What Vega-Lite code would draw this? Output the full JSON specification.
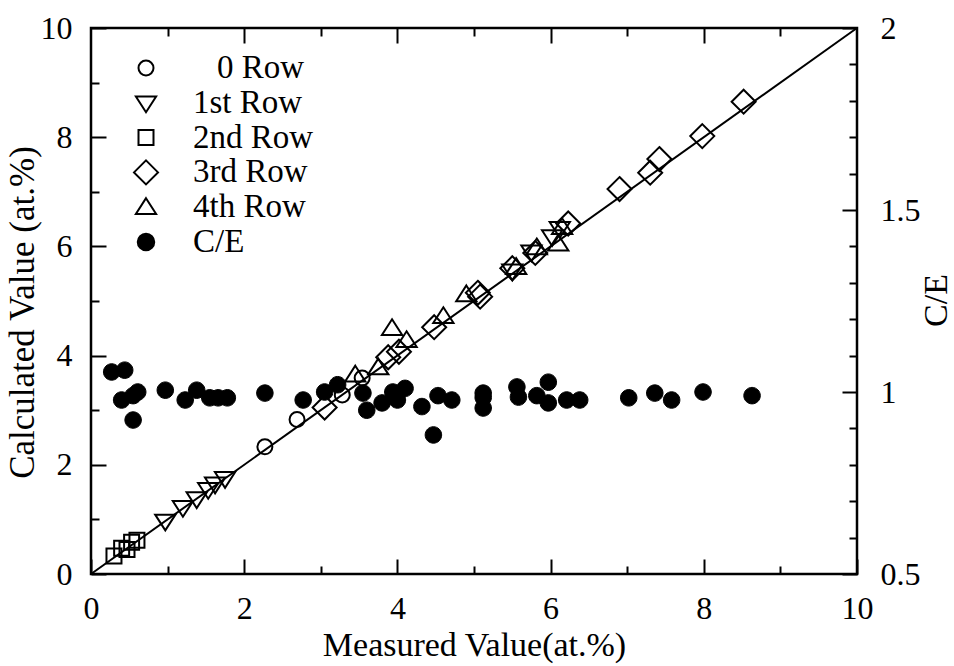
{
  "$schema": "https://vega.github.io/schema/vega-lite/v6.json",
  "width": 766,
  "height": 546,
  "autosize": {"type": "none"},
  "padding": {"left": 91, "top": 28, "right": 97, "bottom": 92},
  "background": "white",
  "config": {
    "view": {"stroke": "black", "strokeWidth": 2.5},
    "axis": {
      "domain": false, "grid": false, "tickColor": "black", "tickWidth": 2,
      "labelFont": "Liberation Serif", "labelFontSize": 32, "labelColor": "black",
      "titleFont": "Liberation Serif", "titleFontSize": 34, "titleFontWeight": "normal", "titleColor": "black",
      "labelFlush": false, "labelOverlap": false
    },
    "legend": {
      "title": null, "orient": "none", "legendX": 38.5, "legendY": 23.5, "direction": "vertical",
      "symbolSize": 225, "symbolStrokeWidth": 2, "labelFont": "Liberation Serif", "labelFontSize": 33, "labelColor": "black",
      "labelOffset": 30.5, "rowPadding": 0.8, "padding": 0, "symbolOpacity": 1
    }
  },
  "datasets": {
    "rows": [
      {"series": "\u28000 Row", "measured": 2.27, "calculated": 2.33},
      {"series": "\u28000 Row", "measured": 2.69, "calculated": 2.83},
      {"series": "\u28000 Row", "measured": 3.28, "calculated": 3.28},
      {"series": "\u28000 Row", "measured": 3.54, "calculated": 3.59},
      {"series": "1st Row", "measured": 0.97, "calculated": 0.97},
      {"series": "1st Row", "measured": 1.2, "calculated": 1.22},
      {"series": "1st Row", "measured": 1.38, "calculated": 1.38},
      {"series": "1st Row", "measured": 1.53, "calculated": 1.55},
      {"series": "1st Row", "measured": 1.62, "calculated": 1.65},
      {"series": "1st Row", "measured": 1.75, "calculated": 1.75},
      {"series": "1st Row", "measured": 5.5, "calculated": 5.55},
      {"series": "1st Row", "measured": 5.75, "calculated": 5.9},
      {"series": "1st Row", "measured": 6.02, "calculated": 6.18},
      {"series": "1st Row", "measured": 6.12, "calculated": 6.33},
      {"series": "2nd Row", "measured": 0.3, "calculated": 0.33},
      {"series": "2nd Row", "measured": 0.4, "calculated": 0.47},
      {"series": "2nd Row", "measured": 0.47, "calculated": 0.45},
      {"series": "2nd Row", "measured": 0.53, "calculated": 0.58},
      {"series": "2nd Row", "measured": 0.6, "calculated": 0.62},
      {"series": "3rd Row", "measured": 3.05, "calculated": 3.05},
      {"series": "3rd Row", "measured": 3.88, "calculated": 3.97},
      {"series": "3rd Row", "measured": 4.02, "calculated": 4.07},
      {"series": "3rd Row", "measured": 4.48, "calculated": 4.52},
      {"series": "3rd Row", "measured": 5.05, "calculated": 5.15},
      {"series": "3rd Row", "measured": 5.08, "calculated": 5.08},
      {"series": "3rd Row", "measured": 5.5, "calculated": 5.6},
      {"series": "3rd Row", "measured": 5.8, "calculated": 5.88},
      {"series": "3rd Row", "measured": 6.23, "calculated": 6.42},
      {"series": "3rd Row", "measured": 6.9, "calculated": 7.05},
      {"series": "3rd Row", "measured": 7.3, "calculated": 7.35},
      {"series": "3rd Row", "measured": 7.42, "calculated": 7.6},
      {"series": "3rd Row", "measured": 7.98, "calculated": 8.02},
      {"series": "3rd Row", "measured": 8.52, "calculated": 8.65},
      {"series": "4th Row", "measured": 3.45, "calculated": 3.65},
      {"series": "4th Row", "measured": 3.75, "calculated": 3.78},
      {"series": "4th Row", "measured": 3.93, "calculated": 4.5},
      {"series": "4th Row", "measured": 4.12, "calculated": 4.28},
      {"series": "4th Row", "measured": 4.6, "calculated": 4.72},
      {"series": "4th Row", "measured": 4.9, "calculated": 5.12},
      {"series": "4th Row", "measured": 5.55, "calculated": 5.62},
      {"series": "4th Row", "measured": 5.82, "calculated": 5.98},
      {"series": "4th Row", "measured": 6.1, "calculated": 6.05},
      {"series": "4th Row", "measured": 6.15, "calculated": 6.35}
    ],
    "ce": [
      {"series": "C/E", "measured": 0.27, "ce": 1.055},
      {"series": "C/E", "measured": 0.44, "ce": 1.06},
      {"series": "C/E", "measured": 0.4, "ce": 0.978},
      {"series": "C/E", "measured": 0.55, "ce": 0.99},
      {"series": "C/E", "measured": 0.61, "ce": 1.0},
      {"series": "C/E", "measured": 0.55, "ce": 0.923},
      {"series": "C/E", "measured": 0.97, "ce": 1.005},
      {"series": "C/E", "measured": 1.23, "ce": 0.978},
      {"series": "C/E", "measured": 1.38, "ce": 1.005},
      {"series": "C/E", "measured": 1.55, "ce": 0.984},
      {"series": "C/E", "measured": 1.66, "ce": 0.984},
      {"series": "C/E", "measured": 1.78, "ce": 0.984},
      {"series": "C/E", "measured": 2.27, "ce": 0.997},
      {"series": "C/E", "measured": 2.77, "ce": 0.978},
      {"series": "C/E", "measured": 3.05, "ce": 1.0},
      {"series": "C/E", "measured": 3.22, "ce": 1.02},
      {"series": "C/E", "measured": 3.55, "ce": 0.997},
      {"series": "C/E", "measured": 3.6, "ce": 0.95},
      {"series": "C/E", "measured": 3.8, "ce": 0.97},
      {"series": "C/E", "measured": 3.94, "ce": 1.0},
      {"series": "C/E", "measured": 4.0, "ce": 0.978},
      {"series": "C/E", "measured": 4.1, "ce": 1.01},
      {"series": "C/E", "measured": 4.32, "ce": 0.96},
      {"series": "C/E", "measured": 4.47, "ce": 0.882},
      {"series": "C/E", "measured": 4.53, "ce": 0.99},
      {"series": "C/E", "measured": 4.71, "ce": 0.978},
      {"series": "C/E", "measured": 5.12, "ce": 0.997},
      {"series": "C/E", "measured": 5.12, "ce": 0.956},
      {"series": "C/E", "measured": 5.12, "ce": 0.985},
      {"series": "C/E", "measured": 5.56, "ce": 1.014},
      {"series": "C/E", "measured": 5.58, "ce": 0.986},
      {"series": "C/E", "measured": 5.82, "ce": 0.99},
      {"series": "C/E", "measured": 5.97, "ce": 1.027},
      {"series": "C/E", "measured": 5.97, "ce": 0.97},
      {"series": "C/E", "measured": 6.21, "ce": 0.978},
      {"series": "C/E", "measured": 6.38, "ce": 0.978},
      {"series": "C/E", "measured": 7.02, "ce": 0.984},
      {"series": "C/E", "measured": 7.36, "ce": 0.997},
      {"series": "C/E", "measured": 7.58, "ce": 0.978},
      {"series": "C/E", "measured": 7.99, "ce": 1.0},
      {"series": "C/E", "measured": 8.63, "ce": 0.99}
    ],
    "diag": [
      {"measured": 0, "calculated": 0},
      {"measured": 10, "calculated": 10}
    ]
  },
  "layer": [
    {
      "resolve": {"axis": {"x": "independent", "y": "independent"}},
      "layer": [
        {
          "data": {"name": "diag"},
          "mark": {"type": "line", "color": "black", "strokeWidth": 2},
          "encoding": {
            "x": {"field": "measured", "type": "quantitative",
              "scale": {"domain": [0, 10], "nice": false, "zero": false},
              "axis": {"orient": "bottom", "values": [0, 2, 4, 6, 8, 10], "tickSize": -15, "labelPadding": 34,
                "title": "Measured Value(at.%)", "titleX": 383, "titleY": 81, "titleBaseline": "alphabetic", "titleAlign": "center", "titleAngle": 0}},
            "y": {"field": "calculated", "type": "quantitative",
              "scale": {"domain": [0, 10], "nice": false, "zero": false},
              "axis": {"orient": "left", "values": [0, 2, 4, 6, 8, 10], "tickSize": -15, "labelPadding": 34,
                "title": "Calculated Value (at.%)", "titleFontSize": 35, "titleX": -58, "titleY": 284, "titleBaseline": "alphabetic", "titleAlign": "center", "titleAngle": -90}}
          }
        },
        {
          "data": {"name": "rows"},
          "mark": {"type": "point", "filled": true, "strokeWidth": 2, "size": 225, "opacity": 1, "fillOpacity": 1, "strokeOpacity": 1},
          "encoding": {
            "x": {"field": "measured", "type": "quantitative",
              "scale": {"domain": [0, 10], "nice": false, "zero": false},
              "axis": {"orient": "bottom", "values": [1, 3, 5, 7, 9], "tickSize": -8, "labels": false, "title": null}},
            "y": {"field": "calculated", "type": "quantitative",
              "scale": {"domain": [0, 10], "nice": false, "zero": false},
              "axis": {"orient": "left", "values": [1, 3, 5, 7, 9], "tickSize": -8, "labels": false, "title": null}},
            "shape": {"field": "series", "type": "nominal",
              "scale": {"domain": ["\u28000 Row", "1st Row", "2nd Row", "3rd Row", "4th Row", "C/E"],
                "range": ["circle", "M-1.35,-0.85L1.35,-0.85L0,1.25Z", "square", "M0,-1.6L1.6,0L0,1.6L-1.6,0Z", "M0,-1.2L1.35,0.9L-1.35,0.9Z", "M1.1,0A1.1,1.1,0,1,1,-1.1,0A1.1,1.1,0,1,1,1.1,0Z"]}},
            "fill": {"field": "series", "type": "nominal",
              "scale": {"domain": ["\u28000 Row", "1st Row", "2nd Row", "3rd Row", "4th Row", "C/E"],
                "range": ["transparent", "transparent", "transparent", "transparent", "transparent", "black"]}},
            "stroke": {"field": "series", "type": "nominal",
              "scale": {"domain": ["\u28000 Row", "1st Row", "2nd Row", "3rd Row", "4th Row", "C/E"],
                "range": ["black", "black", "black", "black", "black", "black"]}}
          }
        }
      ]
    },
    {
      "resolve": {"axis": {"x": "independent", "y": "independent"}},
      "layer": [
        {
          "data": {"name": "ce"},
          "mark": {"type": "point", "filled": true, "strokeWidth": 1, "size": 225, "opacity": 1, "fillOpacity": 1, "strokeOpacity": 1},
          "encoding": {
            "x": {"field": "measured", "type": "quantitative",
              "scale": {"domain": [0, 10], "nice": false, "zero": false},
              "axis": {"orient": "top", "values": [2, 4, 6, 8], "tickSize": -15, "labels": false, "title": null}},
            "y": {"field": "ce", "type": "quantitative",
              "scale": {"domain": [0.5, 2], "nice": false, "zero": false},
              "axis": {"orient": "right", "values": [0.5, 1, 1.5, 2], "format": ".1~f", "tickSize": -15, "labelPadding": 38,
                "title": "C/E", "titleX": 89, "titleY": 272, "titleBaseline": "alphabetic", "titleAlign": "center", "titleAngle": -90}},
            "shape": {"field": "series", "type": "nominal",
              "scale": {"domain": ["\u28000 Row", "1st Row", "2nd Row", "3rd Row", "4th Row", "C/E"],
                "range": ["circle", "M-1.35,-0.85L1.35,-0.85L0,1.25Z", "square", "M0,-1.6L1.6,0L0,1.6L-1.6,0Z", "M0,-1.2L1.35,0.9L-1.35,0.9Z", "M1.1,0A1.1,1.1,0,1,1,-1.1,0A1.1,1.1,0,1,1,1.1,0Z"]}},
            "fill": {"field": "series", "type": "nominal",
              "scale": {"domain": ["\u28000 Row", "1st Row", "2nd Row", "3rd Row", "4th Row", "C/E"],
                "range": ["transparent", "transparent", "transparent", "transparent", "transparent", "black"]}},
            "stroke": {"field": "series", "type": "nominal",
              "scale": {"domain": ["\u28000 Row", "1st Row", "2nd Row", "3rd Row", "4th Row", "C/E"],
                "range": ["black", "black", "black", "black", "black", "black"]}}
          }
        },
        {
          "mark": {"type": "rule", "color": "black", "strokeWidth": 2, "strokeDash": [10, 7]},
          "encoding": {
            "x": {"datum": 0, "type": "quantitative",
              "scale": {"domain": [0, 10], "nice": false, "zero": false},
              "axis": {"orient": "top", "values": [1, 3, 5, 7, 9], "tickSize": -8, "labels": false, "title": null}},
            "x2": {"datum": 10},
            "y": {"datum": 1, "type": "quantitative",
              "scale": {"domain": [0.5, 2], "nice": false, "zero": false},
              "axis": {"orient": "right", "values": [0.6, 0.7, 0.8, 0.9, 1.1, 1.2, 1.3, 1.4, 1.6, 1.7, 1.8, 1.9], "tickSize": -8, "labels": false, "title": null}}
          }
        }
      ]
    }
  ],
  "resolve": {"scale": {"y": "independent"}, "axis": {"x": "independent", "y": "independent"}}
}
